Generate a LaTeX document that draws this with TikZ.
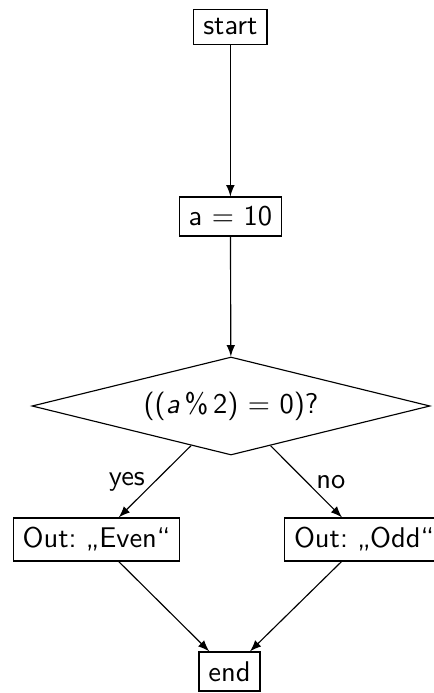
\documentclass[tikz,border=0pt]{standalone}
\usetikzlibrary{shapes.geometric,arrows}
\frenchspacing
\begin{document}
\begin{tikzpicture}[x=0.35088pt,y=-0.35088pt,font=\sffamily,
  box/.style={draw,rectangle},
  decision/.style={draw,diamond,aspect=4,inner sep=0pt,minimum width=139.65pt,minimum height=34.39pt},
  arr/.style={-latex}]
\useasboundingbox (0,0) rectangle (434,693);
\node[box] (start) at (230.4,27) {start};
\node[box] (a) at (230.4,216.5) {a = 10};
\node[decision] (cond) at (231,406) {((\textit{a}\,\%\,2) = 0)?};
\node[box] (even) at (96.5,539.5) {Out: „Even“};
\node[box] (odd) at (364,539.5) {Out: „Odd“};
\node[box] (end) at (229.5,671.5) {end};
\draw[arr] (start) -- (a);
\draw[arr] (a) -- (cond);
\draw[arr] (cond) -- node[left] {yes} (even);
\draw[arr] (cond) -- node[right] {no} (odd);
\draw[arr] (even) -- (end);
\draw[arr] (odd) -- (end);
\end{tikzpicture}
\end{document}
